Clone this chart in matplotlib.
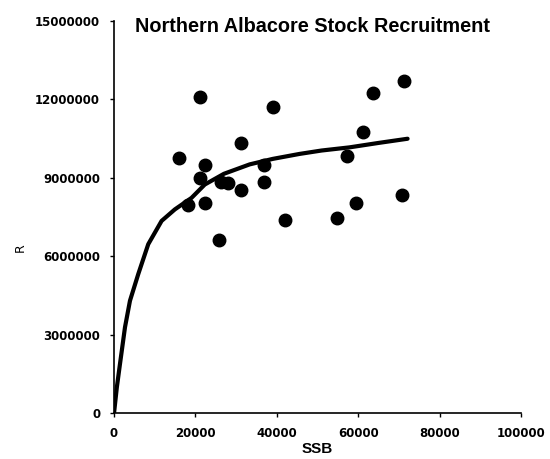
import numpy as np
import matplotlib
matplotlib.use("Agg")
import matplotlib.pyplot as plt

ssb = [15960, 21060, 31160, 22290, 21060, 26400, 28030, 31160, 36900, 36900,
       18180, 22290, 25810, 42120, 38970, 63740, 71310, 61130, 57340, 54730,
       59480, 70740]
rec = [9.74, 12.07, 10.32, 9.49, 8.98, 8.85, 8.79, 8.53, 9.49, 8.85,
       7.96, 8.02, 6.62, 7.37, 11.69, 12.25, 12.71, 10.76, 9.83, 7.45,
       8.05, 8.34]
rec = [r * 1e6 for r in rec]

# fitted stock-recruitment curve
curve_ssb = [0, 700, 1470, 2700, 3920, 5960, 8410, 11690, 14950, 19040,
             22300, 27000, 33330, 39000, 45590, 51000, 57840, 65000, 72130]
curve_r = [0, 1.0, 1.89, 3.29, 4.30, 5.32, 6.46, 7.35, 7.79, 8.23,
           8.74, 9.15, 9.51, 9.72, 9.91, 10.04, 10.16, 10.33, 10.49]
curve_r = [r * 1e6 for r in curve_r]

xticks = [0, 20000, 40000, 60000, 80000, 100000]
yticks = [0, 3000000, 6000000, 9000000, 12000000, 15000000]

plt.rcParams['font.family'] = ['DejaVu Sans']

fig = plt.figure(figsize=(5.5, 4.59), dpi=100)
ax = fig.add_axes([0.2073, 0.0996, 0.7400, 0.8553])

ax.plot(curve_ssb, curve_r, color="black", lw=3.0, solid_capstyle="round", zorder=2)
ax.plot(ssb, rec, "o", color="black", ms=9, zorder=3)

ax.set_xlim(0, 100000)
ax.set_ylim(0, 15000000)
ax.set_xticks(xticks)
ax.set_yticks(yticks)
ax.set_xticklabels([str(t) for t in xticks], fontweight="bold")
ax.set_yticklabels([str(t) for t in yticks], fontweight="bold")
ax.tick_params(axis="both", direction="out", length=3, width=1, labelsize=8.5, pad=7)

for s in ["top", "right"]:
    ax.spines[s].set_visible(False)
for s in ["left", "bottom"]:
    ax.spines[s].set_linewidth(1.2)

ax.set_xlabel("SSB", fontsize=11, fontweight="bold", va="center",
              family=["Liberation Sans", "DejaVu Sans"])
ax.xaxis.set_label_coords(0.5, -0.0905)
ax.set_ylabel("R", fontsize=9, va="center")
ax.yaxis.set_label_coords(-0.231, 0.421)

fig.text(312.5 / 550, 1 - 26 / 459, "Northern Albacore Stock Recruitment",
         ha="center", va="center", fontsize=14.3, fontweight="bold",
         family=["Liberation Sans", "DejaVu Sans"])

fig.savefig("out.png", dpi=100)
